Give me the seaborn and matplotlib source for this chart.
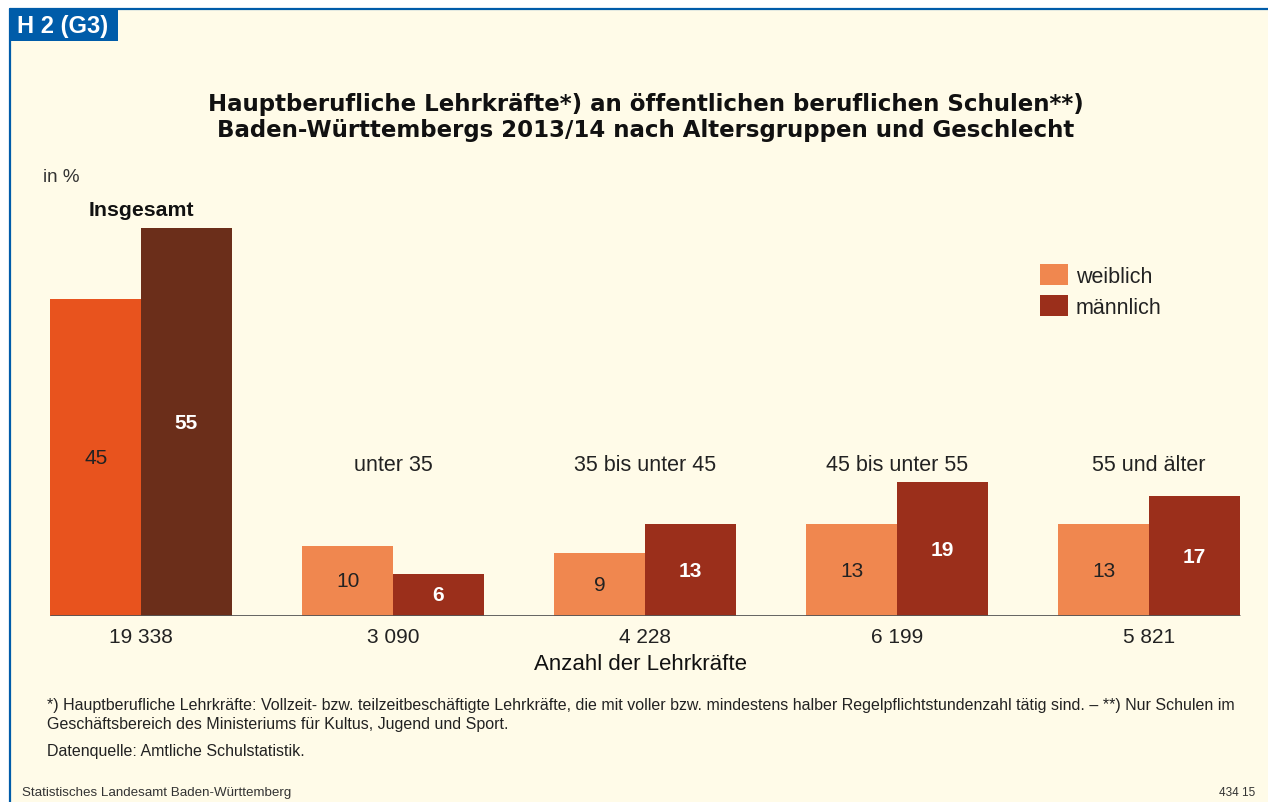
import pandas as pd
import seaborn as sns
import matplotlib.pyplot as plt
from matplotlib.patches import Rectangle, Patch

# Data
groups = ["Insgesamt", "unter 35", "35 bis unter 45", "45 bis unter 55", "55 und älter"]
counts = ["19 338", "3 090", "4 228", "6 199", "5 821"]
weiblich = [45, 10, 9, 13, 13]
maennlich = [55, 6, 13, 19, 17]

BG = "#FFFBE8"
BLUE = "#005CA9"
COL_W = "#F0874F"
COL_M = "#9B2F1B"
COL_W_TOT = "#E8531E"
COL_M_TOT = "#6B2E1A"

W, H = 1268, 803

sns.set_theme(style="white")
plt.rcParams["font.family"] = ["Liberation Sans", "DejaVu Sans"]

df = pd.DataFrame({
    "group": groups * 2,
    "sex": ["weiblich"] * len(groups) + ["männlich"] * len(groups),
    "value": weiblich + maennlich,
})

fig = plt.figure(figsize=(W / 100, H / 100), dpi=100, facecolor="white")


def fx(px):
    return px / W


def fy(py):
    return 1 - py / H


# cream page, blue frame and header box
fig.add_artist(Rectangle((fx(10), 0), 1 - fx(10), fy(10), transform=fig.transFigure,
                         facecolor=BG, edgecolor="none", zorder=0))
fig.add_artist(plt.Line2D([fx(10), 1], [fy(10), fy(10)], transform=fig.transFigure,
                          color=BLUE, lw=1.6))
fig.add_artist(plt.Line2D([fx(10), fx(10)], [0, fy(10)], transform=fig.transFigure,
                          color=BLUE, lw=1.6))
fig.add_artist(Rectangle((fx(10), fy(42)), fx(108), fy(10) - fy(42), transform=fig.transFigure,
                         facecolor=BLUE, edgecolor="none"))
fig.text(fx(17), fy(27), "H 2 (G3)", color="white", fontsize=17, fontweight="bold",
         va="center", ha="left")

# plot area: baseline at y=617 px, 7.05 px per percent, 252 px per group
ax_left, ax_right, ax_top, ax_bottom = 20, 1260, 200, 617
ax = fig.add_axes([fx(ax_left), fy(ax_bottom), fx(ax_right - ax_left), fy(ax_top) - fy(ax_bottom)])
ax.set_facecolor("none")

bar_width = 0.72
sns.barplot(data=df, x="group", y="value", hue="sex", order=groups,
            hue_order=["weiblich", "männlich"],
            palette={"weiblich": COL_W, "männlich": COL_M},
            saturation=1, width=bar_width, linewidth=0, ax=ax, legend=False)

ax.containers[0][0].set_facecolor(COL_W_TOT)
ax.containers[1][0].set_facecolor(COL_M_TOT)

ax.set_xlim((ax_left - 141) / 252, (ax_right - 141) / 252)
ax.set_ylim(0, (ax_bottom - ax_top) / 7.05)
for s in ax.spines.values():
    s.set_visible(False)
ax.hlines(0, -bar_width / 2, len(groups) - 1 + bar_width / 2, color="#555555", lw=2, zorder=5)

ax.bar_label(ax.containers[0], labels=[str(v) for v in weiblich], label_type="center",
             fontsize=15, color="#222222")
ax.bar_label(ax.containers[1], labels=[str(v) for v in maennlich], label_type="center",
             fontsize=15, color="white", fontweight="bold")

ax.set_xticks(range(len(groups)))
ax.set_xticklabels(counts, fontsize=15, color="#222222")
ax.tick_params(axis="x", length=0, pad=8)
ax.set_yticks([])
ax.set_xlabel("Anzahl der Lehrkräfte", fontsize=16, color="#111111", labelpad=5)
ax.set_ylabel("")

# group captions
ax.text(0, (ax_bottom - 210) / 7.05, groups[0], ha="center", va="center",
        fontsize=15.3, fontweight="bold", color="#111111")
for i, g in enumerate(groups[1:], start=1):
    ax.text(i, (ax_bottom - 466) / 7.05, g, ha="center", va="center",
            fontsize=15.5, color="#222222")

handles = [Patch(facecolor=COL_W, edgecolor="none"), Patch(facecolor=COL_M, edgecolor="none")]
leg = fig.legend(handles, ["weiblich", "männlich"], loc="upper left",
                 bbox_to_anchor=(fx(1025), fy(250)), frameon=False, fontsize=15.5,
                 handlelength=1.32, handleheight=1.1, handletextpad=0.35, labelspacing=0.4,
                 borderpad=0.2)
for t in leg.get_texts():
    t.set_color("#222222")

# title and texts
title_font = ["DejaVu Sans"]
fig.text(fx(646), fy(104), "Hauptberufliche Lehrkräfte*) an öffentlichen beruflichen Schulen**)",
         ha="center", va="center", fontsize=16.5, fontweight="bold", color="#111111",
         family=title_font)
fig.text(fx(646), fy(130), "Baden-Württembergs 2013/14 nach Altersgruppen und Geschlecht",
         ha="center", va="center", fontsize=16.5, fontweight="bold", color="#111111",
         family=title_font)
fig.text(fx(43), fy(177), "in %", ha="left", va="center", fontsize=13.5, color="#333333")

fig.text(fx(47), fy(706), "*) Hauptberufliche Lehrkräfte: Vollzeit- bzw. teilzeitbeschäftigte Lehrkräfte, "
         "die mit voller bzw. mindestens halber Regelpflichtstundenzahl tätig sind. – **) Nur Schulen im",
         ha="left", va="center", fontsize=11.5, color="#222222")
fig.text(fx(47), fy(724), "Geschäftsbereich des Ministeriums für Kultus, Jugend und Sport.",
         ha="left", va="center", fontsize=11.5, color="#222222")
fig.text(fx(47), fy(752), "Datenquelle: Amtliche Schulstatistik.",
         ha="left", va="center", fontsize=11.5, color="#222222")
fig.text(fx(22), fy(793), "Statistisches Landesamt Baden-Württemberg",
         ha="left", va="center", fontsize=9.6, color="#333333")
fig.text(fx(1255), fy(793), "434 15", ha="right", va="center", fontsize=8.5, color="#333333")

fig.savefig("out.png", dpi=100, facecolor="white")
